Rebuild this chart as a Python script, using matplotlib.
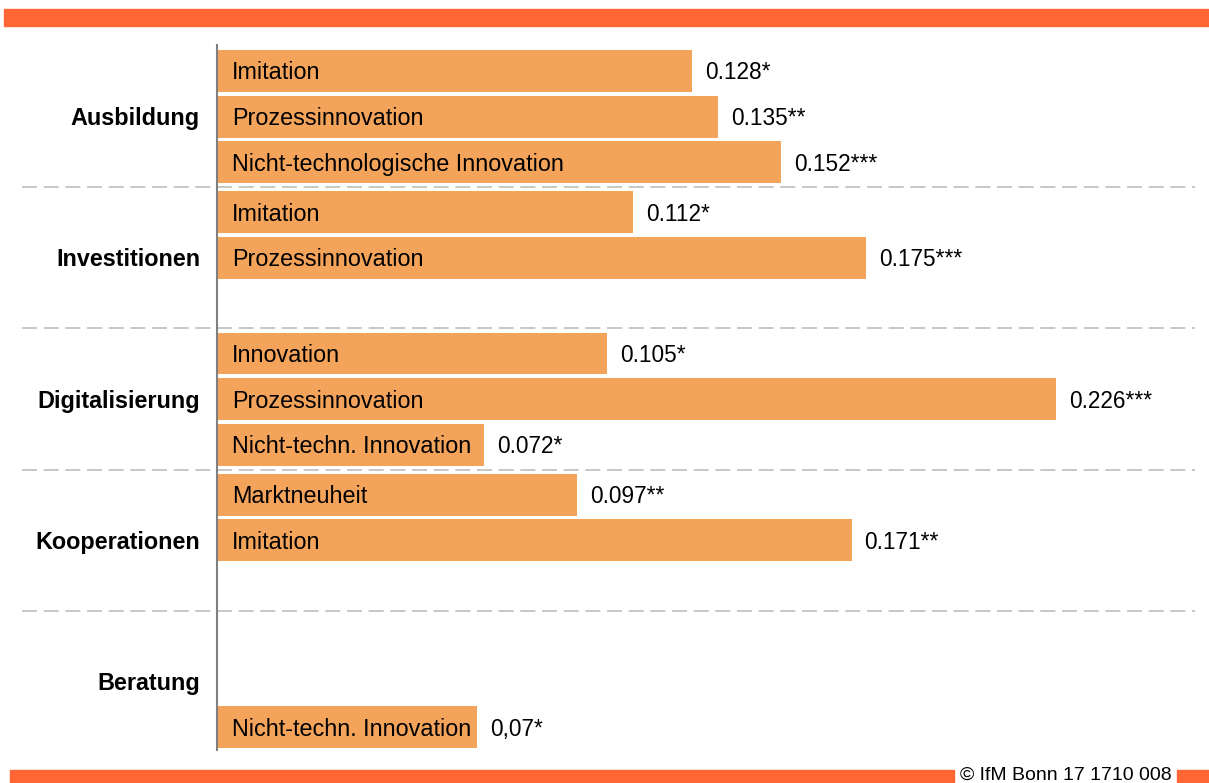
import matplotlib
matplotlib.use('Agg')
import matplotlib.pyplot as plt
import matplotlib.transforms as mtransforms
from matplotlib.patches import Rectangle

plt.rcParams['font.family'] = ['Liberation Sans', 'DejaVu Sans']

# ── Data ──────────────────────────────────────────────────────────
groups = ['Ausbildung', 'Investitionen', 'Digitalisierung', 'Kooperationen', 'Beratung']

bar_labels = [
    ['Imitation', 'Prozessinnovation', 'Nicht-technologische Innovation'],
    ['Imitation', 'Prozessinnovation', None],
    ['Innovation', 'Prozessinnovation', 'Nicht-techn. Innovation'],
    ['Marktneuheit', 'Imitation', None],
    [None, None, 'Nicht-techn. Innovation'],
]
values = [
    [0.128, 0.135, 0.152],
    [0.112, 0.175, None],
    [0.105, 0.226, 0.072],
    [0.097, 0.171, None],
    [None, None, 0.070],
]
value_texts = [
    ['0.128*', '0.135**', '0.152***'],
    ['0.112*', '0.175***', None],
    ['0.105*', '0.226***', '0.072*'],
    ['0.097**', '0.171**', None],
    [None, None, '0,07*'],
]

BAR_C = '#F4A35B'
BAND_C = '#FF6633'
GROUP_STEP = 3.1

# ── Figure ────────────────────────────────────────────────────────
W, H = 1209, 783
fig = plt.figure(figsize=(W / 100, H / 100), dpi=100)
ax = fig.add_axes([217 / W, 1 - 750 / H, (1195 - 217) / W, (750 - 45) / H])

# small downward nudge so text centres sit like in the original
down = mtransforms.ScaledTranslation(0, -2 / 100, fig.dpi_scale_trans)

for g, grp in enumerate(groups):
    for s in range(3):
        v = values[g][s]
        if v is None:
            continue
        y = g * GROUP_STEP + s
        ax.barh(y, v, height=0.92, color=BAR_C, edgecolor='none')
        ax.text(0, y, bar_labels[g][s], ha='left', va='center', fontsize=16.8,
                transform=ax.transData + mtransforms.ScaledTranslation(15 / 100, -2 / 100, fig.dpi_scale_trans))
        ax.text(v, y, value_texts[g][s], ha='left', va='center', fontsize=16.3,
                transform=ax.transData + mtransforms.ScaledTranslation(13 / 100, -2 / 100, fig.dpi_scale_trans))
    # group label at middle slot, right aligned left of the axis
    ax.text(-17 / 978, g * GROUP_STEP + 1, grp, ha='right', va='center',
            fontsize=16.8, fontweight='bold', transform=ax.get_yaxis_transform() + down)
    # dashed separator between groups
    if g < len(groups) - 1:
        ax.plot([-(217 - 22) / 978, 1], [g * GROUP_STEP + 2.55] * 2, color='#BDBDBD',
                linewidth=1.2, dashes=(9, 4), transform=ax.get_yaxis_transform(),
                clip_on=False, zorder=0)

ax.set_xlim(0, (1195 - 217) / 3711)
ax.set_ylim(4 * GROUP_STEP + 2 + 0.5, -0.57)
for side in ['top', 'right', 'bottom']:
    ax.spines[side].set_visible(False)
ax.spines['left'].set_color('#808080')
ax.spines['left'].set_linewidth(1.5)
ax.set_xticks([])
ax.set_yticks([])

# ── Orange bands and footer ───────────────────────────────────────
fig.patches.append(Rectangle((4 / W, 1 - 26 / H), 1, 17 / H, color=BAND_C,
                             transform=fig.transFigure, figure=fig))
fig.patches.append(Rectangle((10 / W, 0), (954 - 10) / W, 13 / H, color=BAND_C,
                             transform=fig.transFigure, figure=fig))
fig.patches.append(Rectangle((1177 / W, 0), 1, 13 / H, color=BAND_C,
                             transform=fig.transFigure, figure=fig))
fig.text(1066 / W, 3 / H, '\u00a9 IfM Bonn 17 1710 008', ha='center', va='baseline',
         fontsize=14)

fig.savefig('out.png', dpi=100, facecolor='white')
